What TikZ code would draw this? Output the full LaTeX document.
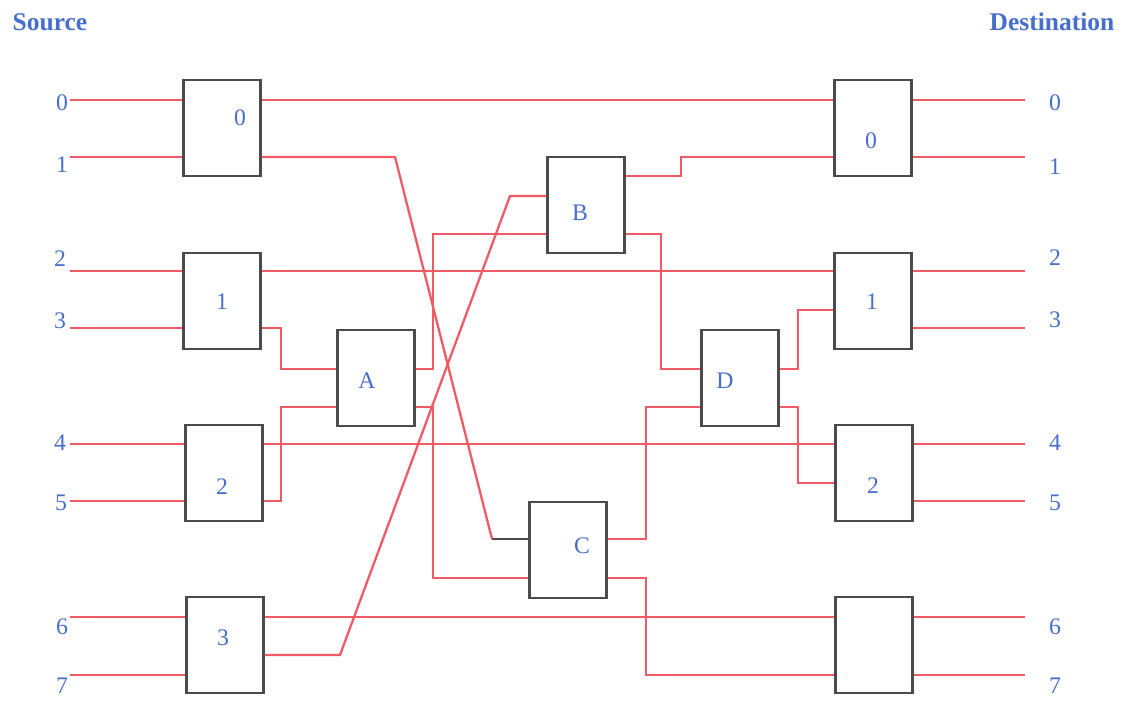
\documentclass[tikz,border=0pt]{standalone}
\usepackage{fontspec}
\setmainfont{Liberation Serif}

\definecolor{wirered}{RGB}{240,90,100}
\definecolor{labelblue}{RGB}{70,110,205}
\definecolor{boxgray}{RGB}{75,75,75}

\tikzset{
  wire/.style={draw=wirered, line width=1.3pt},
  stub/.style={draw=boxgray, line width=1.3pt},
  switchbox/.style={draw=boxgray, line width=1.2pt, minimum width=1.54cm,
    minimum height=1.92cm, inner sep=0pt},
  num/.style={text=labelblue, font=\fontsize{13.5}{13.5}\selectfont, inner sep=0pt},
  title/.style={text=labelblue, font=\bfseries\fontsize{14.5}{14.5}\selectfont, inner sep=0pt}
}

\begin{document}
\begin{tikzpicture}[x=0.02cm, y=-0.02cm]
  \useasboundingbox (0,0) rectangle (1131,700);

  \node[title] (src) at (50,22) {Source};
  \node[title] (dst) at (1052,22) {Destination};

  % first stage
  \node[switchbox] (L0) at (222,128) {};
  \node[switchbox] (L1) at (222,301) {};
  \node[switchbox] (L2) at (224,473) {};
  \node[switchbox] (L3) at (225,645) {};

  % middle stages
  \node[switchbox] (A) at (376,378) {};
  \node[switchbox] (B) at (586,205) {};
  \node[switchbox] (C) at (568,550) {};
  \node[switchbox] (D) at (740,378) {};

  % last stage
  \node[switchbox] (R0) at (873,128) {};
  \node[switchbox] (R1) at (873,301) {};
  \node[switchbox] (R2) at (874,473) {};
  \node[switchbox] (R3) at (874,645) {};

  % box labels
  \node[num] (L0t) at (240,118) {0};
  \node[num] (L1t) at (222,302) {1};
  \node[num] (L2t) at (222,487) {2};
  \node[num] (L3t) at (223,638) {3};
  \node[num] (At) at (367,381) {A};
  \node[num] (Bt) at (580,213) {B};
  \node[num] (Ct) at (582,546) {C};
  \node[num] (Dt) at (725,381) {D};
  \node[num] (R0t) at (871,141) {0};
  \node[num] (R1t) at (872,302) {1};
  \node[num] (R2t) at (873,486) {2};

  % line ends
  \foreach \i/\y in {0/100,1/157,2/271,3/328,4/444,5/501,6/617,7/675} {
    \coordinate (s\i) at (70,\y);
    \coordinate (d\i) at (1025,\y);
  }

  \foreach \i/\x/\y in {0/62/103,1/62/165,2/60/259,3/60/321,
                        4/60/443,5/61/503,6/62/627,7/62/686}
    \node[num] (sl\i) at (\x,\y) {\i};
  \foreach \i/\y in {0/103,1/167,2/258,3/320,4/443,5/503,6/627,7/686}
    \node[num] (dl\i) at (1055,\y) {\i};

  % inputs and outputs
  \foreach \i/\b in {0/L0,1/L0,2/L1,3/L1,4/L2,5/L2,6/L3,7/L3}
    \draw[wire] (s\i) -- (\b.west |- s\i);
  \foreach \i/\b in {0/R0,1/R0,2/R1,3/R1,4/R2,5/R2,6/R3,7/R3}
    \draw[wire] (\b.east |- d\i) -- (d\i);

  % straight through
  \foreach \i/\a/\b in {0/L0/R0,2/L1/R1,4/L2/R2,6/L3/R3}
    \draw[wire] (\a.east |- s\i) -- (\b.west |- s\i);

  % crossing links
  \draw[wire] (L0.east |- s1) -- (395,157) -- (492,539);
  \draw[stub] (492,539) -- (C.west |- 0,539);
  \draw[wire] (L1.east |- s3) -| (281,369) -- (A.west |- 0,369);
  \draw[wire] (L2.east |- s5) -| (281,407) -- (A.west |- 0,407);
  \draw[wire] (L3.east |- 0,655) -- (340,655) -- (510,196) -- (B.west |- 0,196);

  \draw[wire] (A.east |- 0,369) -| (433,234) -- (B.west |- 0,234);
  \draw[wire] (A.east |- 0,407) -| (433,578) -- (C.west |- 0,578);

  \draw[wire] (B.east |- 0,176) -| (681,157) -- (R0.west |- s1);
  \draw[wire] (B.east |- 0,234) -| (661,369) -- (D.west |- 0,369);
  \draw[wire] (C.east |- 0,539) -| (646,407) -- (D.west |- 0,407);
  \draw[wire] (C.east |- 0,578) -| (646,675) -- (R3.west |- s7);

  \draw[wire] (D.east |- 0,369) -| (798,310) -- (R1.west |- 0,310);
  \draw[wire] (D.east |- 0,407) -| (798,483) -- (R2.west |- 0,483);
\end{tikzpicture}
\end{document}
